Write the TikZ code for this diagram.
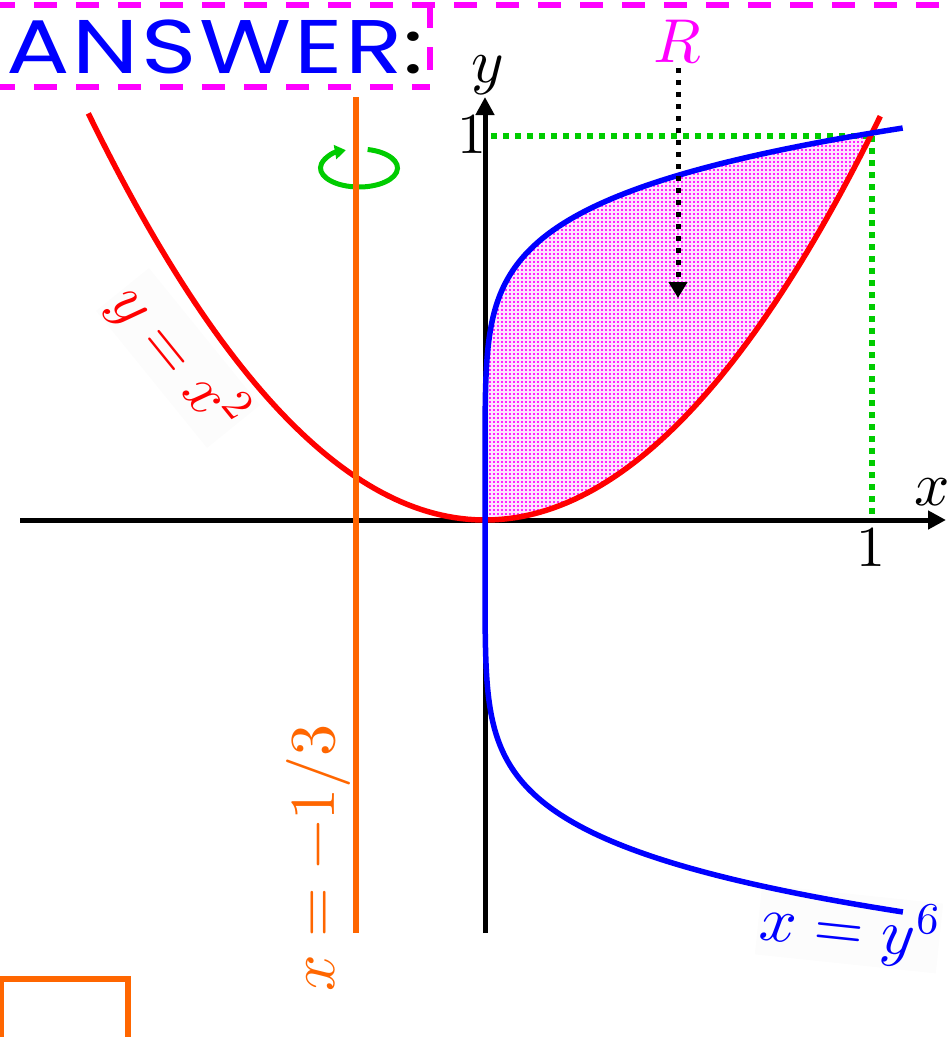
\documentclass[tikz,border=0pt]{standalone}
\usepackage{fontspec}
\usepackage{unicode-math}
\setmathfont{Latin Modern Math}
\newfontfamily\ansfont[LetterSpace=3]{Poppins}
\usetikzlibrary{arrows.meta}
\definecolor{cred}{RGB}{255,0,0}
\definecolor{cblue}{RGB}{0,0,255}
\definecolor{corange}{RGB}{255,102,0}
\definecolor{cgreen}{RGB}{0,204,0}
\definecolor{cmag}{RGB}{255,0,255}
\begin{document}
\begin{tikzpicture}[x=1pt,y=-1pt,
  axis/.style={line width=5pt, -{Triangle[length=18pt,width=18pt]}},
  redc/.style={line width=5.5pt, color=cred},
  bluec/.style={line width=5.5pt, color=cblue},
  gdot/.style={line width=6pt, color=cgreen, dash pattern=on 6pt off 6pt},
  mframe/.style={line width=6.5pt, color=cmag, dash pattern=on 23pt off 19pt, dash phase=8pt},
  lbl/.style={font=\fontsize{62}{62}\selectfont, inner sep=2pt},
  oline/.style={line width=6pt, color=corange},
  dotrow/.style={cmag!85, line width=1.7pt, dash pattern=on 1.7pt off 2.3pt},
]
\useasboundingbox (0,0) rectangle (951,1037);

% magenta dashed frame around the heading
\coordinate (f1) at (0,5);
\coordinate (f2) at (960,5);
\coordinate (f3) at (0,87);
\coordinate (f4) at (430,87);
\coordinate (f5) at (430,5);
\draw[mframe] (f1) -- (f2);
\draw[mframe] (f3) -- (f4);
\draw[mframe, dash phase=0pt] (f5) -- (f4);
\node[anchor=base west, inner sep=0pt, font=\ansfont\fontsize{76}{76}\selectfont] (ans) at (6,73) {\scalebox{1.24}[1]{\textcolor{cblue}{ANSWER}:}};

% region R
\begin{scope}[shift={(485,520)}, x=387pt, y=387pt]
  \fill[cmag!10]
    plot[domain=0:1,samples=80] (\x,{\x*\x}) -- plot[domain=1:0,samples=150] ({\x*\x*\x*\x*\x*\x},\x) -- cycle;
  \begin{scope}
    \clip plot[domain=0:1,samples=80] (\x,{\x*\x}) -- plot[domain=1:0,samples=150] ({\x*\x*\x*\x*\x*\x},\x) -- cycle;
    \foreach \k in {0,...,99} \draw[dotrow] (0,{(\k*4+2)/387}) -- (1.02,{(\k*4+2)/387});
  \end{scope}
\end{scope}

% green dotted guides
\coordinate (g1) at (491,136);
\coordinate (g2) at (872,136);
\coordinate (g3) at (872,520);
\draw[gdot] (g1) -- (g2);
\draw[gdot] (g2) -- (g3);

% axes
\coordinate (xs) at (20,520);
\coordinate (xe) at (946,520);
\coordinate (ys) at (485,933);
\coordinate (ye) at (485,97);
\draw[axis] (xs) -- (xe);
\draw[axis] (ys) -- (ye);
\node[lbl] (xl) at (932,492) {$x$};
\node[lbl] (yl) at (488,75) {$y$};
\node[lbl, font=\fontsize{58}{58}\selectfont] (one1) at (472,134) {$1$};
\node[lbl, font=\fontsize{58}{58}\selectfont] (one2) at (871,547) {$1$};

% curve labels (under the curves)
\node[lbl, text=cred, fill=black!1, rotate=-51] (lred) at (178,358) {$y = x^2$};
\node[lbl, text=cblue, fill=black!1, rotate=-6, font=\fontsize{64}{64}\selectfont] (lblue) at (849,929) {$x = y^6$};

% curves
\begin{scope}[shift={(485,520)}, x=387pt, y=387pt]
  \draw[redc] plot[domain=-1.025:1.022, samples=120] (\x,{\x*\x});
  \draw[bluec] plot[domain=-1.0129:1.0129, samples=300] ({\x*\x*\x*\x*\x*\x},\x);
\end{scope}

% R label and arrow
\node[lbl, text=cmag, inner sep=4pt] (R) at (678,42) {$R$};
\coordinate (Rtip) at (678,298);
\draw[line width=5pt, dash pattern=on 5pt off 7pt, -{Triangle[length=16pt,width=18pt]}] (R.south) -- (Rtip);

% rotation arrow
\begin{scope}[shift={(359,168)}, y=1pt]
  \draw[cgreen, line width=5pt, -{Triangle[length=11pt,width=14pt]}] (77:38.5 and 19) arc[start angle=77, end angle=-250, x radius=38.5, y radius=19];
\end{scope}

% axis of rotation
\coordinate (o1) at (356,97);
\coordinate (o2) at (356,933);
\draw[oline] (o1) -- (o2);
\node[lbl, text=corange, rotate=90, font=\fontsize{64}{64}\selectfont] (lor) at (318,858) {$x = -1/3$};

% orange box at bottom left
\coordinate (b1) at (0.5,1045);
\coordinate (b2) at (0.5,979);
\coordinate (b3) at (128,979);
\coordinate (b4) at (128,1045);
\draw[oline] (b1) -- (b2) -- (b3) -- (b4);
\end{tikzpicture}
\end{document}
